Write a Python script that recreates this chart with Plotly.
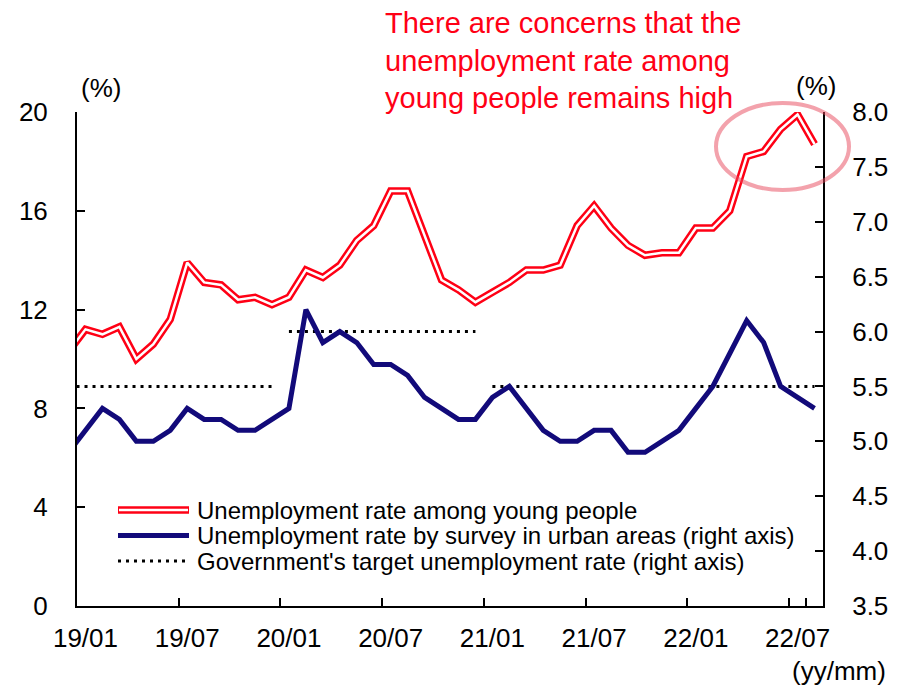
import plotly.graph_objects as go

# Monthly categories (yy/mm); 18/12 sits just left of the visible range
months = [
    "18/12",
    "19/01", "19/02", "19/03", "19/04", "19/05", "19/06",
    "19/07", "19/08", "19/09", "19/10", "19/11", "19/12",
    "20/01", "20/02", "20/03", "20/04", "20/05", "20/06",
    "20/07", "20/08", "20/09", "20/10", "20/11", "20/12",
    "21/01", "21/02", "21/03", "21/04", "21/05", "21/06",
    "21/07", "21/08", "21/09", "21/10", "21/11", "21/12",
    "22/01", "22/02", "22/03", "22/04", "22/05", "22/06",
    "22/07", "22/08",
]

# Unemployment rate among young people (left axis, %)
youth_rate = [
    10.3,
    11.2, 11.0, 11.3, 10.0, 10.6, 11.6, 13.9, 13.1, 13.0, 12.4, 12.5, 12.2,
    12.5, 13.6, 13.3, 13.8, 14.8, 15.4, 16.8, 16.8, 15.0, 13.2, 12.8, 12.3,
    12.7, 13.1, 13.6, 13.6, 13.8, 15.4, 16.2, 15.3, 14.6, 14.2, 14.3, 14.3,
    15.3, 15.3, 16.0, 18.2, 18.4, 19.3, 19.9, 18.7,
]

# Surveyed urban unemployment rate (right axis, %)
urban_rate = [
    4.9,
    5.1, 5.3, 5.2, 5.0, 5.0, 5.1, 5.3, 5.2, 5.2, 5.1, 5.1, 5.2,
    5.3, 6.2, 5.9, 6.0, 5.9, 5.7, 5.7, 5.6, 5.4, 5.3, 5.2, 5.2,
    5.4, 5.5, 5.3, 5.1, 5.0, 5.0, 5.1, 5.1, 4.9, 4.9, 5.0, 5.1,
    5.3, 5.5, 5.8, 6.1, 5.9, 5.5, 5.4, 5.3,
]

# Government's annual target unemployment rate (right axis, %)
target_rate = [5.5] * 13 + [6.0] * 12 + [5.5] * 12 + [5.5] * 8

tick_labels = ["19/01", "19/07", "20/01", "20/07", "21/01", "21/07", "22/01", "22/07"]

left_ticks = [0, 4, 8, 12, 16, 20]
right_ticks = [3.5, 4.0, 4.5, 5.0, 5.5, 6.0, 6.5, 7.0, 7.5, 8.0]

RED = "#FF0015"
NAVY = "#120A7A"
FONT = "Arial, 'Liberation Sans', sans-serif"

W, H = 898, 686
L, R, T, B = 77, 75, 112, 80
PW, PH = W - L - R, H - T - B


def xp(px):
    return (px - L) / PW


def yp(py):
    return (T + PH - py) / PH


fig = go.Figure()

# Target rate: one dotted segment per run of equal target values
start = 0
for i in range(1, len(target_rate) + 1):
    if i == len(target_rate) or target_rate[i] != target_rate[start]:
        fig.add_trace(go.Scatter(
            x=months[start:i], y=target_rate[start:i], yaxis="y2",
            mode="lines", line=dict(color="black", width=3, dash="3px,5px"),
            showlegend=False, hoverinfo="skip",
        ))
        start = i

fig.add_trace(go.Scatter(
    x=months, y=urban_rate, yaxis="y2", mode="lines",
    line=dict(color=NAVY, width=5), showlegend=False,
))

# Double red line: wide red stroke with a thin white core
fig.add_trace(go.Scatter(
    x=months, y=youth_rate, mode="lines",
    line=dict(color=RED, width=7.5), showlegend=False,
))
fig.add_trace(go.Scatter(
    x=months, y=youth_rate, mode="lines",
    line=dict(color="white", width=2.5), showlegend=False, hoverinfo="skip",
))

shapes = []
annotations = []

# Hand-built legend
legend_rows = [
    ("Unemployment rate among young people", 510),
    ("Unemployment rate by survey in urban areas (right axis)", 535.5),
    ("Government's target unemployment rate (right axis)", 561),
]
sx0, sx1 = 118, 189
y_red, y_blue, y_dot = [r[1] for r in legend_rows]
shapes.append(dict(type="line", xref="paper", yref="paper",
                   x0=xp(sx0), x1=xp(sx1), y0=yp(y_red), y1=yp(y_red),
                   line=dict(color=RED, width=7.5)))
shapes.append(dict(type="line", xref="paper", yref="paper",
                   x0=xp(sx0 + 1), x1=xp(sx1 - 1), y0=yp(y_red), y1=yp(y_red),
                   line=dict(color="white", width=2.5)))
shapes.append(dict(type="line", xref="paper", yref="paper",
                   x0=xp(sx0), x1=xp(sx1), y0=yp(y_blue), y1=yp(y_blue),
                   line=dict(color=NAVY, width=5)))
shapes.append(dict(type="line", xref="paper", yref="paper",
                   x0=xp(sx0), x1=xp(sx1), y0=yp(y_dot), y1=yp(y_dot),
                   line=dict(color="black", width=3, dash="3px,5px")))
for text, py in legend_rows:
    annotations.append(dict(text=text, xref="paper", yref="paper",
                            x=xp(195), y=yp(py), xanchor="left", yanchor="middle",
                            showarrow=False, font=dict(size=24, color="black", family=FONT)))

# Highlight around the latest youth unemployment readings
shapes.append(dict(type="circle", xref="paper", yref="paper", layer="above",
                   x0=xp(716), x1=xp(849), y0=yp(190), y1=yp(103),
                   line=dict(color="rgba(232,70,90,0.5)", width=4)))

# Headline
annotations.append(dict(
    text="There are concerns that the<br>unemployment rate among<br>young people remains high",
    xref="paper", yref="paper", x=xp(383), y=yp(5), xanchor="left", yanchor="top",
    align="left", showarrow=False, font=dict(size=29, color=RED, family=FONT)))

# Unit labels
for text, px, py in [("(%)", 101, 88), ("(%)", 816, 86)]:
    annotations.append(dict(text=text, xref="paper", yref="paper", x=xp(px), y=yp(py),
                            xanchor="center", yanchor="middle", showarrow=False,
                            font=dict(size=26, color="black", family=FONT)))
annotations.append(dict(text="(yy/mm)", xref="paper", yref="paper", x=xp(888), y=yp(671),
                        xanchor="right", yanchor="middle", showarrow=False,
                        font=dict(size=26, color="black", family=FONT)))

axis_common = dict(showgrid=False, zeroline=False, showline=True, linecolor="black",
                   linewidth=2, ticks="inside", ticklen=8, tickwidth=2, tickcolor="black",
                   automargin=False, tickfont=dict(size=26, color="black", family=FONT))

fig.update_layout(
    width=W, height=H, autosize=False,
    margin=dict(l=L, r=R, t=T, b=B),
    paper_bgcolor="white", plot_bgcolor="white",
    showlegend=False,
    xaxis=dict(type="category", categoryorder="array", categoryarray=months,
               range=[0.5, len(months) - 0.5], tickmode="array", tickvals=tick_labels,
               ticktext=tick_labels, tickson="boundaries", ticklabelstandoff=8,
               tickangle=0, mirror=False, **axis_common),
    yaxis=dict(range=[0, 20], tickvals=left_ticks, ticklabelstandoff=22, **axis_common),
    yaxis2=dict(range=[3.5, 8.0], tickvals=right_ticks, tickformat=".1f",
                overlaying="y", side="right", ticklabelstandoff=22, **axis_common),
    shapes=shapes, annotations=annotations,
    font=dict(family=FONT, color="black"),
)

fig.write_html("out.html")
